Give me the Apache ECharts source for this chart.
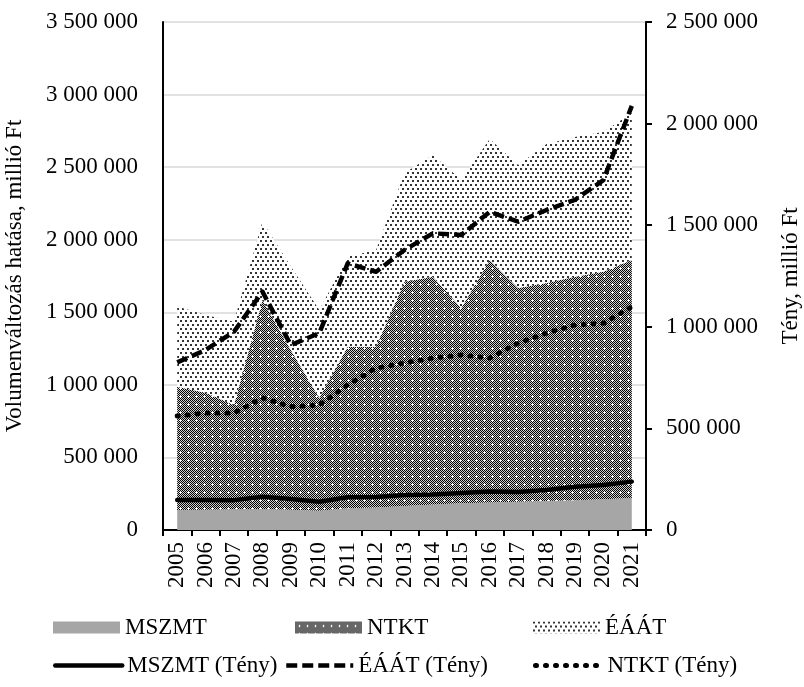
<!DOCTYPE html>
<html>
<head>
<meta charset="utf-8">
<script src="https://cdn.jsdelivr.net/npm/echarts@6/dist/echarts.min.js"></script>
<style>
html,body{margin:0;padding:0;background:#fff;}
#chart{width:804px;height:687px;}
</style>
</head>
<body>
<div id="chart"></div>
<script>
// ---- data ----
const years = ['2005','2006','2007','2008','2009','2010','2011','2012','2013','2014','2015','2016','2017','2018','2019','2020','2021'];
// stacked areas (left axis)
const mszmt = [138000,140000,143000,145000,140000,133000,150000,155000,165000,175000,185000,190000,195000,200000,205000,212000,220000];
const ntkt  = [849000,805000,718000,1440000,1100000,777000,1113000,1108000,1546000,1570000,1344000,1670000,1472000,1502000,1540000,1568000,1640000];
const eaat  = [553000,536000,574000,539000,575000,605000,620000,666000,749000,839000,882000,834000,848000,958000,963000,962000,1013000];
// lines (right axis)
const mszmtTeny = [148000,148000,147000,164000,152000,139000,161000,162000,172000,175000,182000,189000,187000,197000,213000,221000,238000];
const eaatTeny  = [825000,886000,976000,1173000,910000,969000,1312000,1271000,1378000,1460000,1452000,1566000,1517000,1575000,1625000,1722000,2087000];
const ntktTeny  = [561000,576000,576000,650000,607000,615000,714000,797000,822000,846000,861000,846000,920000,969000,1009000,1017000,1099000];
const leftTicks = {min:0, max:3500000, interval:500000};
const rightTicks = {min:0, max:2500000, interval:500000};
const leftName = 'Volumenváltozás hatása, millió Ft';
const rightName = 'Tény, millió Ft';

// ---- patterns ----
function makeNtktPattern(){
  const c = document.createElement('canvas');
  c.width = 8; c.height = 8;
  const g = c.getContext('2d');
  for (let y=0;y<8;y++) for (let x=0;x<8;x++){
    g.fillStyle = ((x+y)%2===0) ? '#000000' : '#cfcfcf';
    g.fillRect(x,y,1,1);
  }
  g.fillStyle = '#ffffff';
  g.fillRect(3,4,3,1);
  g.fillRect(4,3,1,3);
  return {image:c, repeat:'repeat'};
}
function makeEaatPattern(){
  const c = document.createElement('canvas');
  c.width = 10; c.height = 8;
  const g = c.getContext('2d');
  g.fillStyle = '#ffffff'; g.fillRect(0,0,10,8);
  g.fillStyle = '#333333';
  g.fillRect(0,0,2,2); g.fillRect(5,0,2,2);
  g.fillRect(2,4,2,2); g.fillRect(7,4,2,2);
  return {image:c, repeat:'repeat'};
}
const pNtkt = makeNtktPattern();
const pEaat = makeEaatPattern();

const FONT = 'Liberation Serif';
const FS = 23;
const fmt = v => String(v).replace(/\B(?=(\d{3})+(?!\d))/g,' ');

const chart = echarts.init(document.getElementById('chart'), null, {renderer:'canvas'});

function leg(item, left, top, extra){
  return Object.assign({
    data:[item], left:left, top:top, itemWidth:67, itemHeight:12, itemGap:0,
    textStyle:{fontFamily:FONT, fontSize:FS, color:'#000'}, selectedMode:false, padding:0
  }, extra||{});
}
const noSym = {color:'rgba(0,0,0,0)', borderWidth:0};

const option = {
  animation:false,
  backgroundColor:'#ffffff',
  grid:{left:163, right:158, top:22, bottom:157, containLabel:false, outerBoundsMode:'none'},
  legend:[
    leg({name:'MSZMT', icon:'rect', itemStyle:{color:'#a6a6a6'}}, 53, 616),
    leg({name:'NTKT', icon:'rect', itemStyle:{color:pNtkt}}, 295, 616),
    leg({name:'ÉÁÁT', icon:'rect', itemStyle:{color:pEaat}}, 533, 616),
    leg({name:'MSZMT (Tény)', itemStyle:noSym, lineStyle:{color:'#000', width:4.5, type:'solid'}}, 53, 654),
    leg({name:'ÉÁÁT (Tény)', itemStyle:noSym, lineStyle:{color:'#000', width:4.5, type:[11,5]}}, 284, 654),
    leg({name:'NTKT (Tény)', itemStyle:noSym, lineStyle:{color:'#000', width:5, type:[1,9], cap:'round'}}, 533, 654)
  ],
  xAxis:{
    type:'category', data:years, boundaryGap:true,
    axisLine:{lineStyle:{color:'#000', width:2}},
    axisTick:{show:true, length:6, lineStyle:{color:'#000', width:2}},
    axisLabel:{rotate:90, margin:12, fontFamily:FONT, fontSize:FS, color:'#000', interval:0}
  },
  yAxis:[
    {
      type:'value', min:leftTicks.min, max:leftTicks.max, interval:leftTicks.interval,
      name:leftName, nameLocation:'middle', nameGap:137, nameRotate:90,
      nameTextStyle:{fontFamily:FONT, fontSize:FS, color:'#000'},
      axisLine:{show:true, lineStyle:{color:'#000', width:2}},
      axisTick:{show:false},
      axisLabel:{margin:25, fontFamily:FONT, fontSize:FS, color:'#000', formatter:fmt},
      splitLine:{show:true, lineStyle:{color:'#d9d9d9', width:1.5}}
    },
    {
      type:'value', position:'right', min:rightTicks.min, max:rightTicks.max, interval:rightTicks.interval,
      name:rightName, nameLocation:'middle', nameGap:133, nameRotate:90,
      nameTextStyle:{fontFamily:FONT, fontSize:FS, color:'#000'},
      axisLine:{show:true, lineStyle:{color:'#000', width:2}},
      axisTick:{show:true, length:6, lineStyle:{color:'#000', width:2}},
      axisLabel:{margin:20, fontFamily:FONT, fontSize:FS, color:'#000', formatter:fmt},
      splitLine:{show:false}
    }
  ],
  series:[
    {name:'MSZMT', type:'line', stack:'a', data:mszmt, yAxisIndex:0, symbol:'none', silent:true,
     color:'#a6a6a6', lineStyle:{width:0}, areaStyle:{color:'#a6a6a6', opacity:1}, z:1},
    {name:'NTKT', type:'line', stack:'a', data:ntkt, yAxisIndex:0, symbol:'none', silent:true,
     color:'#555', lineStyle:{width:0}, areaStyle:{color:pNtkt, opacity:1}, z:1},
    {name:'ÉÁÁT', type:'line', stack:'a', data:eaat, yAxisIndex:0, symbol:'none', silent:true,
     color:'#ddd', lineStyle:{width:0}, areaStyle:{color:pEaat, opacity:1}, z:1},
    {name:'MSZMT (Tény)', type:'line', data:mszmtTeny, yAxisIndex:1, symbol:'none', silent:true,
     color:'#000', lineStyle:{color:'#000', width:4.5, cap:'round', join:'round'}, z:5},
    {name:'ÉÁÁT (Tény)', type:'line', data:eaatTeny, yAxisIndex:1, symbol:'none', silent:true,
     color:'#000', lineStyle:{color:'#000', width:4.5, type:[11,5], cap:'butt', join:'round'}, z:5},
    {name:'NTKT (Tény)', type:'line', data:ntktTeny, yAxisIndex:1, symbol:'none', silent:true,
     color:'#000', lineStyle:{color:'#000', width:5, type:[1,9], cap:'round', join:'round'}, z:5}
  ]
};
chart.setOption(option);
</script>
</body>
</html>
